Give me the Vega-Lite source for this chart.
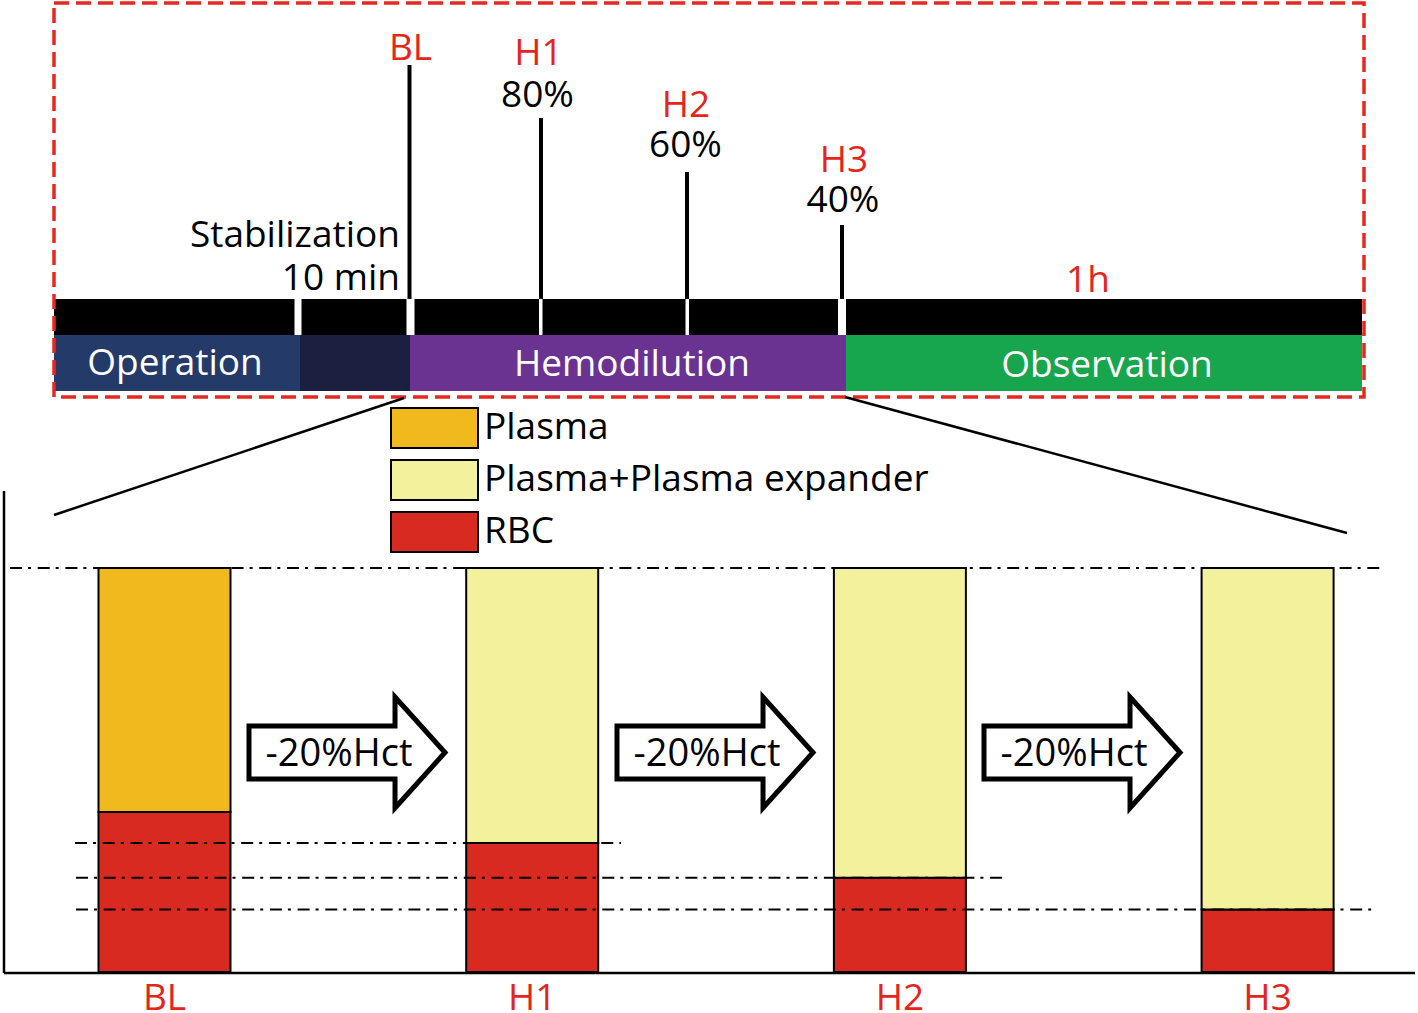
{
  "$schema": "https://vega.github.io/schema/vega-lite/v6.json",
  "width": 1418,
  "height": 1013,
  "padding": 0,
  "autosize": {"type": "none"},
  "background": "white",
  "config": {"view": {"stroke": null}, "font": "Open Sans", "text": {"font": "Open Sans"}},
  "datasets": {
    "timeline": [{"x": 54, "x2": 1362, "y": 299, "y2": 335}],
    "phases": [
      {"phase": "Operation", "x": 54, "x2": 300, "y": 335, "y2": 391},
      {"phase": "Stabilization", "x": 300, "x2": 410, "y": 335, "y2": 391},
      {"phase": "Hemodilution", "x": 410, "x2": 846, "y": 335, "y2": 391},
      {"phase": "Observation", "x": 846, "x2": 1362, "y": 335, "y2": 391}
    ],
    "gaps": [
      {"x": 294.5, "x2": 301.5, "y": 299, "y2": 335},
      {"x": 406.5, "x2": 414.5, "y": 299, "y2": 335},
      {"x": 539, "x2": 542.5, "y": 299, "y2": 335},
      {"x": 685.5, "x2": 689, "y": 299, "y2": 335},
      {"x": 838, "x2": 846, "y": 299, "y2": 335}
    ],
    "events": [
      {"x": 409.5, "y": 65, "y2": 299},
      {"x": 541, "y": 118, "y2": 299},
      {"x": 687, "y": 172, "y2": 299},
      {"x": 842, "y": 225, "y2": 299}
    ],
    "redText": [
      {"x": 410.5, "y": 60, "text": "BL"},
      {"x": 538.5, "y": 65, "text": "H1"},
      {"x": 686, "y": 117, "text": "H2"},
      {"x": 844, "y": 172, "text": "H3"},
      {"x": 1088, "y": 292, "text": "1h"}
    ],
    "pctText": [
      {"x": 537.5, "y": 107, "text": "80%"},
      {"x": 685.5, "y": 157, "text": "60%"},
      {"x": 843, "y": 212, "text": "40%"}
    ],
    "noteText": [
      {"x": 400, "y": 247, "text": "Stabilization"},
      {"x": 400, "y": 290, "text": "10 min"}
    ],
    "phaseText": [
      {"x": 175, "y": 375, "text": "Operation"},
      {"x": 632, "y": 376, "text": "Hemodilution"},
      {"x": 1107, "y": 377, "text": "Observation"}
    ],
    "frame": [{"x": 54, "x2": 1364, "y": 3, "y2": 397}],
    "lines": [
      {"x": 404, "y": 398, "x2": 54, "y2": 515},
      {"x": 845, "y": 397, "x2": 1347, "y2": 533},
      {"x": 4, "y": 491, "x2": 4, "y2": 973},
      {"x": 4, "y": 973, "x2": 1415, "y2": 973}
    ],
    "arrows": [
      {"x": 347, "y": 752.5},
      {"x": 715, "y": 752.5},
      {"x": 1082, "y": 752.5}
    ],
    "arrowText": [
      {"x": 339, "y": 766, "text": "-20%Hct"},
      {"x": 707, "y": 766, "text": "-20%Hct"},
      {"x": 1074, "y": 766, "text": "-20%Hct"}
    ],
    "blood": [
      {"stage": "BL", "component": "RBC", "percent": 39.6},
      {"stage": "BL", "component": "Plasma", "percent": 60.4},
      {"stage": "H1", "component": "RBC", "percent": 31.9},
      {"stage": "H1", "component": "Plasma+Plasma expander", "percent": 68.1},
      {"stage": "H2", "component": "RBC", "percent": 23.3},
      {"stage": "H2", "component": "Plasma+Plasma expander", "percent": 76.7},
      {"stage": "H3", "component": "RBC", "percent": 15.5},
      {"stage": "H3", "component": "Plasma+Plasma expander", "percent": 84.5}
    ],
    "stages": [{"stage": "BL"}, {"stage": "H1"}, {"stage": "H2"}, {"stage": "H3"}],
    "levels": [
      {"level": 100, "from": 10, "to": 1380},
      {"level": 31.9, "from": 75, "to": 621},
      {"level": 23.3, "from": 76, "to": 1002},
      {"level": 15.5, "from": 76, "to": 1372}
    ]
  },
  "resolve": {"scale": {"x": "independent", "y": "independent", "color": "independent"}},
  "layer": [
    {
      "encoding": {
        "x": {"field": "x", "type": "quantitative", "scale": {"domain": [0, 1418], "nice": false, "zero": false}, "axis": null},
        "y": {"field": "y", "type": "quantitative", "scale": {"domain": [0, 1013], "reverse": true, "nice": false, "zero": false}, "axis": null}
      },
      "layer": [
        {"data": {"name": "timeline"}, "mark": {"type": "rect", "fill": "black"}, "encoding": {"x2": {"field": "x2"}, "y2": {"field": "y2"}}},
        {"data": {"name": "phases"}, "mark": {"type": "rect"}, "encoding": {"x2": {"field": "x2"}, "y2": {"field": "y2"},
          "color": {"field": "phase", "type": "nominal", "scale": {"domain": ["Operation", "Stabilization", "Hemodilution", "Observation"], "range": ["#243a69", "#1b1f40", "#6a3391", "#17a64e"]}, "legend": null}}},
        {"data": {"name": "gaps"}, "mark": {"type": "rect", "fill": "white"}, "encoding": {"x2": {"field": "x2"}, "y2": {"field": "y2"}}},
        {"data": {"name": "events"}, "mark": {"type": "rule", "color": "black", "strokeWidth": 4}, "encoding": {"y2": {"field": "y2"}}},
        {"data": {"name": "redText"}, "mark": {"type": "text", "fontSize": 37, "fill": "#e3261c", "align": "center", "baseline": "alphabetic"}, "encoding": {"text": {"field": "text"}}},
        {"data": {"name": "pctText"}, "mark": {"type": "text", "fontSize": 37, "fill": "black", "align": "center", "baseline": "alphabetic"}, "encoding": {"text": {"field": "text"}}},
        {"data": {"name": "noteText"}, "mark": {"type": "text", "fontSize": 37, "fill": "black", "align": "right", "baseline": "alphabetic"}, "encoding": {"text": {"field": "text"}}},
        {"data": {"name": "phaseText"}, "mark": {"type": "text", "fontSize": 37, "fill": "white", "align": "center", "baseline": "alphabetic"}, "encoding": {"text": {"field": "text"}}},
        {"data": {"name": "frame"}, "mark": {"type": "rect", "fillOpacity": 0, "stroke": "#e8281e", "strokeWidth": 3.5, "strokeDash": [15, 7]}, "encoding": {"x2": {"field": "x2"}, "y2": {"field": "y2"}}},
        {"data": {"name": "lines"}, "mark": {"type": "rule", "color": "black", "strokeWidth": 2.5}, "encoding": {"x2": {"field": "x2"}, "y2": {"field": "y2"}}},
        {"data": {"name": "arrows"}, "mark": {"type": "point", "shape": "M-1,-0.27L0.49,-0.27L0.49,-0.566L1,0L0.49,0.566L0.49,0.27L-1,0.27Z", "size": 38416, "filled": true, "fill": "white", "stroke": "black", "strokeWidth": 5, "strokeJoin": "miter", "opacity": 1}},
        {"data": {"name": "arrowText"}, "mark": {"type": "text", "fontSize": 38, "fill": "black", "align": "center", "baseline": "alphabetic"}, "encoding": {"text": {"field": "text"}}}
      ]
    },
    {
      "layer": [
        {
          "data": {"name": "blood"},
          "mark": {"type": "bar", "stroke": "black", "strokeWidth": 2},
          "encoding": {
            "x": {"field": "stage", "type": "nominal", "scale": {"domain": ["BL", "H1", "H2", "H3"], "paddingInner": 0.64101, "paddingOuter": 0.24871, "align": 0.5385}, "axis": null},
            "y": {"field": "percent", "type": "quantitative", "stack": "zero", "scale": {"domain": [-10.1486, 240.594], "nice": false, "zero": false}, "axis": null},
            "color": {"field": "component", "type": "nominal",
              "scale": {"domain": ["Plasma", "Plasma+Plasma expander", "RBC"], "range": ["#f0ba1e", "#f3f19c", "#d92a22"]},
              "legend": {"title": null, "orient": "none", "legendX": 413.5, "legendY": 407, "direction": "vertical", "padding": 0,
                "symbolType": "M-2.175,-1L2.175,-1L2.175,1L-2.175,1Z", "symbolSize": 1600, "symbolStrokeColor": "black", "symbolStrokeWidth": 2, "symbolOpacity": 1,
                "labelFontSize": 37, "labelFont": "Open Sans", "labelColor": "black", "labelOffset": 28.5, "labelLimit": 1000, "rowPadding": 4}},
            "order": {"field": "component", "sort": "descending"}
          }
        },
        {
          "data": {"name": "stages"},
          "mark": {"type": "text", "fontSize": 37, "fill": "#e3261c", "align": "center", "baseline": "alphabetic"},
          "encoding": {
            "x": {"field": "stage", "type": "nominal"},
            "y": {"datum": -9.4},
            "text": {"field": "stage"}
          }
        }
      ]
    },
    {
      "data": {"name": "levels"},
      "mark": {"type": "rule", "color": "black", "strokeWidth": 2, "strokeDash": [12, 6, 3, 6.7]},
      "encoding": {
        "x": {"field": "from", "type": "quantitative", "scale": {"domain": [0, 1418], "nice": false, "zero": false}, "axis": null},
        "x2": {"field": "to"},
        "y": {"field": "level", "type": "quantitative", "scale": {"domain": [-10.1486, 240.594], "nice": false, "zero": false}, "axis": null}
      }
    }
  ]
}
